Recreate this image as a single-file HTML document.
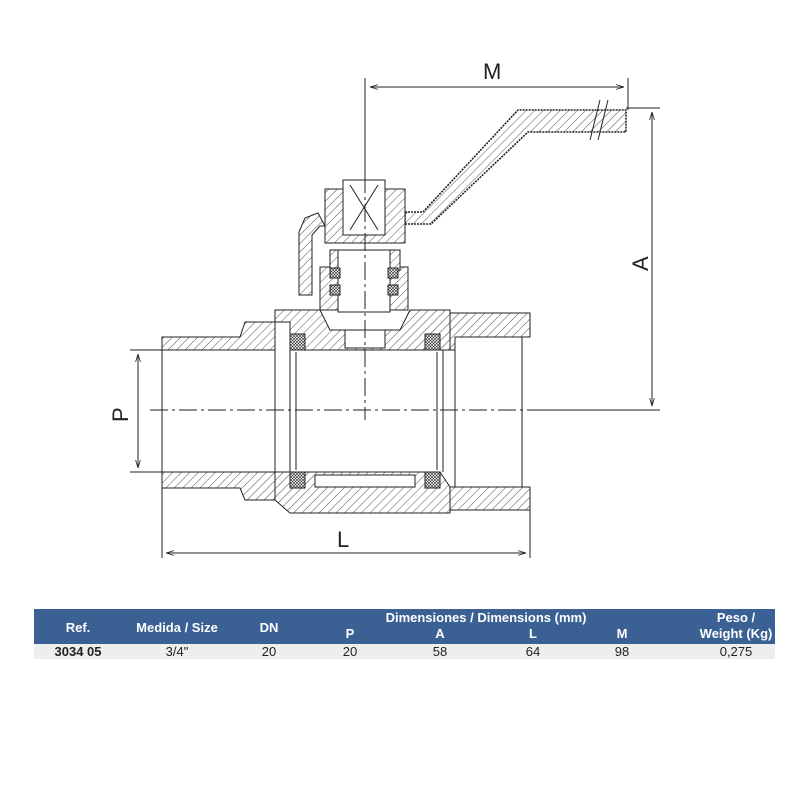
<!DOCTYPE html>
<html><head><style>
body{margin:0;background:#fff;width:800px;height:800px;overflow:hidden;font-family:"Liberation Sans",Arial,sans-serif}
</style></head><body>
<svg width="800" height="800" viewBox="0 0 800 800" xmlns="http://www.w3.org/2000/svg">
<defs>
<pattern id="h" width="6" height="6" patternUnits="userSpaceOnUse" patternTransform="rotate(45)">
<rect width="6" height="6" fill="#fff"/><line x1="0" y1="0" x2="0" y2="6" stroke="#222" stroke-width="0.8"/></pattern>
<pattern id="x" width="3" height="3" patternUnits="userSpaceOnUse"><rect width="3" height="3" fill="#fff"/><path d="M0 0L3 3M3 0L0 3" stroke="#222" stroke-width="0.6"/></pattern>
<marker id="a" viewBox="0 0 10 10" refX="10" refY="5" markerWidth="8" markerHeight="8" orient="auto-start-reverse"><path d="M0 2L10 5L0 8" fill="none" stroke="#222"/></marker>
</defs>
<g stroke="#222" stroke-width="1" fill="url(#h)">
<!-- handle -->
<path d="M405 212 L423 212 L518 110 L626 110 L626 132 L528 132 L431 224 L405 224 Z" stroke-width="1.6" stroke-dasharray="2 1"/>
<path d="M318 213 L305 218 L299 232 L299 295 L312 295 L312 235 L320 226 L325 226 Z"/>
<!-- nut -->
<rect x="325" y="189" width="80" height="54"/>
<rect x="343" y="180" width="42" height="55" fill="#fff"/>
<path d="M350 185 L378 230 M378 185 L350 230" fill="none"/>
<!-- stem housing -->
<path d="M320 267 L408 267 L408 310 L320 310 Z"/>
<rect x="330" y="250" width="70" height="20"/>
<rect x="338" y="250" width="52" height="62" fill="#fff"/>
<rect x="330" y="268" width="10" height="10" fill="url(#x)"/><rect x="388" y="268" width="10" height="10" fill="url(#x)"/>
<rect x="330" y="285" width="10" height="10" fill="url(#x)"/><rect x="388" y="285" width="10" height="10" fill="url(#x)"/>
<!-- left pipe -->
<path d="M162 337 L240 337 L245 322 L275 322 L275 350 L162 350 Z"/>
<path d="M162 472 L275 472 L275 500 L245 500 L240 488 L162 488 Z"/>
<!-- body -->
<path d="M275 310 L320 310 L330 330 L400 330 L410 310 L450 310 L450 350 L290 350 L290 322 L275 322 Z"/>
<path d="M275 500 L275 472 L440 472 L450 487 L450 513 L290 513 Z"/>
<!-- right end -->
<path d="M450 313 L530 313 L530 337 L455 337 L455 350 L450 350 Z"/>
<path d="M450 487 L530 487 L530 510 L450 510 Z"/>
<!-- seats -->
<rect x="290" y="334" width="15" height="16" fill="url(#x)"/><rect x="425" y="334" width="15" height="16" fill="url(#x)"/>
<rect x="290" y="472" width="15" height="16" fill="url(#x)"/><rect x="425" y="472" width="15" height="16" fill="url(#x)"/>
<rect x="315" y="475" width="100" height="12" fill="#fff"/>
<rect x="345" y="330" width="40" height="18" fill="#fff"/>
</g>
<g stroke="#222" fill="none" stroke-width="1">
<line x1="275" y1="350" x2="275" y2="472"/><line x1="290" y1="350" x2="290" y2="472"/>
<line x1="296" y1="352" x2="296" y2="470"/><line x1="437" y1="352" x2="437" y2="470"/>
<line x1="443" y1="350" x2="443" y2="472"/><line x1="455" y1="337" x2="455" y2="487"/>
<line x1="522" y1="337" x2="522" y2="487"/>
<line x1="162" y1="337" x2="162" y2="558"/><line x1="530" y1="510" x2="530" y2="558"/>
<line x1="365" y1="78" x2="365" y2="175"/><line x1="628" y1="78" x2="628" y2="110"/>
<line x1="626" y1="108" x2="660" y2="108"/><line x1="530" y1="410" x2="660" y2="410"/>
<line x1="130" y1="350" x2="162" y2="350"/><line x1="130" y1="472" x2="162" y2="472"/>
<line x1="370" y1="87" x2="624" y2="87" marker-start="url(#a)" marker-end="url(#a)"/>
<line x1="652" y1="112" x2="652" y2="406" marker-start="url(#a)" marker-end="url(#a)"/>
<line x1="138" y1="354" x2="138" y2="468" marker-start="url(#a)" marker-end="url(#a)"/>
<line x1="166" y1="553" x2="526" y2="553" marker-start="url(#a)" marker-end="url(#a)"/>
<line x1="590" y1="140" x2="600" y2="100"/><line x1="598" y1="140" x2="608" y2="100"/>
<line x1="150" y1="410" x2="545" y2="410" stroke-dasharray="18 4 3 4"/>
<line x1="365" y1="175" x2="365" y2="420" stroke-dasharray="18 4 3 4"/>
</g>
<g font-size="22" fill="#222" font-family="Liberation Sans,sans-serif">
<text x="483" y="79">M</text>
<text x="337" y="547">L</text>
<text transform="translate(648,271) rotate(-90)">A</text>
<text transform="translate(128,422) rotate(-90)">P</text>
</g>
<rect x="34" y="609" width="741" height="35" fill="#3a6094"/>
<rect x="34" y="644" width="741" height="15" fill="#eeeeee"/>
<g fill="#fff" font-weight="bold" font-size="13" text-anchor="middle">
<text x="78" y="632">Ref.</text><text x="177" y="632">Medida / Size</text><text x="269" y="632">DN</text>
<text x="486" y="622">Dimensiones / Dimensions (mm)</text>
<text x="350" y="638">P</text><text x="440" y="638">A</text><text x="533" y="638">L</text><text x="622" y="638">M</text>
<text x="736" y="622">Peso /</text><text x="736" y="638">Weight (Kg)</text>
</g>
<g fill="#222" font-size="13" text-anchor="middle">
<text x="78" y="656" font-weight="bold">3034 05</text><text x="177" y="656">3/4"</text><text x="269" y="656">20</text>
<text x="350" y="656">20</text><text x="440" y="656">58</text><text x="533" y="656">64</text><text x="622" y="656">98</text><text x="736" y="656">0,275</text>
</g>
</svg>
</body></html>
